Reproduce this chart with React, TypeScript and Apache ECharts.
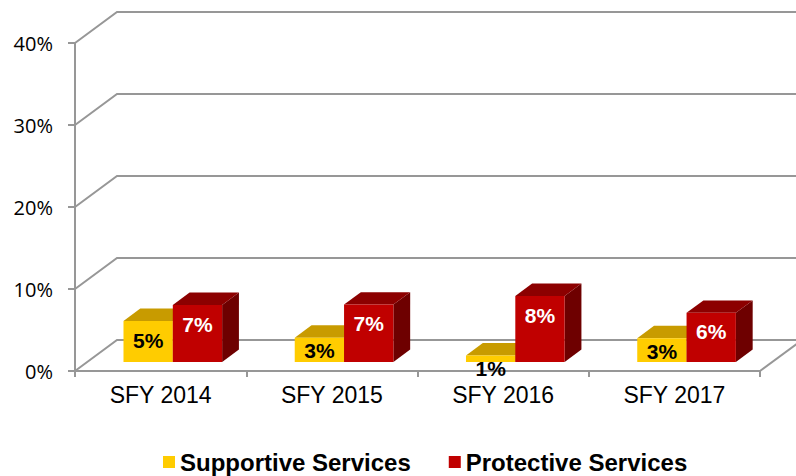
import React, { useEffect, useRef } from "react";
import * as echarts from "echarts";

const categories = ["SFY 2014", "SFY 2015", "SFY 2016", "SFY 2017"];
const supportive = [5.0, 2.96, 0.8, 2.9];
const protective = [6.95, 7.0, 8.05, 6.0];
const yTicks = [0, 10, 20, 30, 40];

const DX = 42;
const DY = -31;
const D1 = 0.29;
const D2 = 0.69;
const GRAY = "#979797";

function makeBarRender(side: number, front: string, top: string, sideCol: string, labelCol: string) {
  return (params: any, api: any) => {
    const cat = api.value(0);
    const v = api.value(1);
    const base = api.coord([cat, 0]);
    const tp = api.coord([cat, v]);
    const catW = api.size([1, 0])[0];
    const bw = catW * 0.288;
    const x0 = base[0] + DX * D1 + (side < 0 ? -bw : 0);
    const yb = base[1] + DY * D1;
    const yt = tp[1] + DY * D1;
    const ddx = DX * (D2 - D1);
    const ddy = DY * (D2 - D1);
    const h = yb - yt;
    const ly = yt + Math.max(13, Math.min(19, h / 2));
    return {
      type: "group",
      children: [
        {
          type: "polygon",
          shape: { points: [[x0 + bw, yt], [x0 + bw + ddx, yt + ddy], [x0 + bw + ddx, yb + ddy], [x0 + bw, yb]] },
          style: { fill: sideCol },
        },
        {
          type: "polygon",
          shape: { points: [[x0, yt], [x0 + ddx, yt + ddy], [x0 + bw + ddx, yt + ddy], [x0 + bw, yt]] },
          style: { fill: top },
        },
        {
          type: "rect",
          shape: { x: x0, y: yt, width: bw, height: h },
          style: { fill: front },
        },
        {
          type: "text",
          x: x0 + bw / 2,
          y: ly,
          style: {
            text: Math.round(v) + "%",
            fill: labelCol,
            font: "bold 21px 'Liberation Sans', Arial, sans-serif",
            align: "center",
            verticalAlign: "middle",
          },
          z2: 10,
        },
      ],
    };
  };
}

export default function App() {
  const ref = useRef<HTMLDivElement>(null);
  useEffect(() => {
    document.body.style.margin = "0";
    if (!ref.current) return;
    const chart = echarts.init(ref.current, undefined, { renderer: "svg" });
    chart.setOption({
      animation: false,
      backgroundColor: "#ffffff",
      grid: { left: 75, right: 36, top: 43, bottom: 105, containLabel: false },
      legend: {
        data: ["Supportive Services", "Protective Services"],
        left: 163,
        top: 450,
        padding: 0,
        itemGap: 38,
        itemWidth: 12,
        itemHeight: 12,
        icon: "rect",
        textStyle: {
          fontSize: 24,
          fontWeight: "bold",
          color: "#000",
          fontFamily: "'Liberation Sans', Arial, sans-serif",
        },
      },
      xAxis: {
        type: "category",
        data: categories,
        axisLine: { show: true, lineStyle: { color: GRAY, width: 2 } },
        axisTick: { show: true, length: 6, lineStyle: { color: GRAY, width: 2 } },
        axisLabel: {
          margin: 12,
          fontSize: 23,
          color: "#000",
          fontFamily: "'Liberation Sans', Arial, sans-serif",
        },
        splitLine: { show: false },
      },
      yAxis: {
        type: "value",
        min: 0,
        max: 40,
        interval: 10,
        axisLine: { show: true, lineStyle: { color: GRAY, width: 2 } },
        axisTick: { show: true, length: 7, lineStyle: { color: GRAY, width: 2 } },
        axisLabel: {
          margin: 22,
          fontSize: 20,
          color: "#000",
          fontFamily: "'Open Sans', sans-serif",
          formatter: (v: number) => v + "%",
        },
        splitLine: { show: false },
      },
      series: [
        {
          type: "custom",
          name: "grid3d",
          silent: true,
          z: 1,
          data: yTicks.map((v) => [0, v]),
          renderItem: (params: any, api: any) => {
            const v = api.value(1);
            const cs = params.coordSys;
            const y = api.coord([0, v])[1];
            const left = cs.x;
            const right = cs.x + cs.width;
            const children: any[] = [
              {
                type: "polyline",
                shape: { points: [[left, y], [left + DX, y + DY], [right + DX, y + DY]] },
                style: { stroke: GRAY, lineWidth: 2, fill: "none" },
              },
            ];
            if (v === 0) {
              children.push({
                type: "line",
                shape: { x1: right, y1: y, x2: right + DX, y2: y + DY },
                style: { stroke: GRAY, lineWidth: 2 },
              });
            }
            return { type: "group", children };
          },
        },
        {
          type: "custom",
          name: "Supportive Services",
          z: 2,
          itemStyle: { color: "#FFCC00" },
          data: supportive.map((v, i) => [i, v]),
          renderItem: makeBarRender(-1, "#FFCC00", "#C89B00", "#A88200", "#000000"),
        },
        {
          type: "custom",
          name: "Protective Services",
          z: 3,
          itemStyle: { color: "#C00000" },
          data: protective.map((v, i) => [i, v]),
          renderItem: makeBarRender(1, "#C00000", "#8C0000", "#6E0000", "#FFFFFF"),
        },
      ],
    });
    return () => chart.dispose();
  }, []);
  return <div ref={ref} style={{ width: 796, height: 476 }} />;
}
